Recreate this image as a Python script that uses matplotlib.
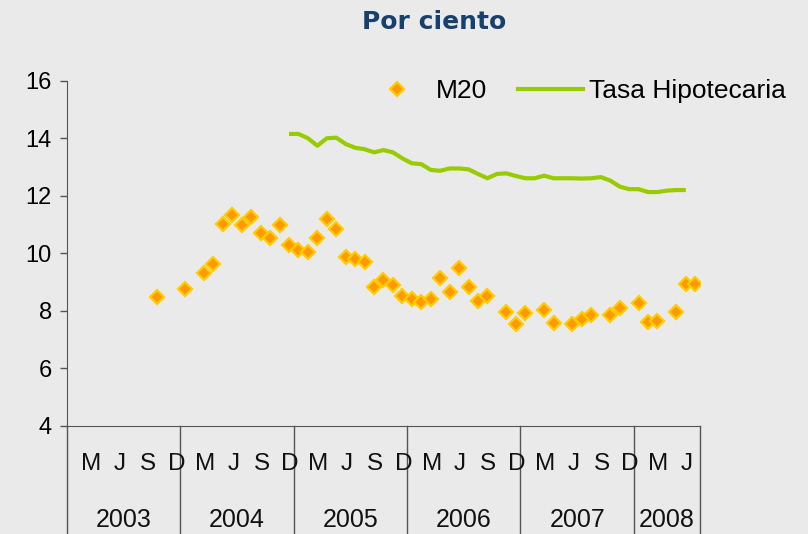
import matplotlib
matplotlib.use("Agg")
import matplotlib.pyplot as plt
import numpy as np
from matplotlib.lines import Line2D

# months from Jan 2003 to Jul 2008, one slot per month
years = ["2003", "2004", "2005", "2006", "2007", "2008"]
months_per_year = [12, 12, 12, 12, 12, 7]
month_letters = ["", "", "M", "", "", "J", "", "", "S", "", "", "D"]

n = np.nan
m20_2003 = [n, n, n, n, n, n, n, n, n, 8.49, n, n]
m20_2004 = [8.75, n, 9.31, 9.64, 11.01, 11.32, 10.98, 11.25, 10.70, 10.52, 11.00, 10.29]
m20_2005 = [10.12, 10.03, 10.53, 11.19, 10.85, 9.88, 9.80, 9.71, 8.82, 9.07, 8.90, 8.52]
m20_2006 = [8.40, 8.32, 8.41, 9.15, 8.67, 9.48, 8.83, 8.34, 8.51, n, 7.95, 7.54]
m20_2007 = [7.94, n, 8.03, 7.57, n, 7.54, 7.72, 7.86, n, 7.86, 8.10, n]
m20_2008 = [8.28, 7.62, 7.64, n, 7.95, 8.92, 8.92]

tasa_2003 = [n] * 12
tasa_2004 = [n] * 11 + [14.15]
tasa_2005 = [14.15, 14.00, 13.74, 14.00, 14.02, 13.80, 13.67, 13.62, 13.51, 13.59, 13.51, 13.30]
tasa_2006 = [13.13, 13.10, 12.90, 12.87, 12.95, 12.95, 12.92, 12.76, 12.61, 12.76, 12.78, 12.69]
tasa_2007 = [12.61, 12.61, 12.70, 12.61, 12.61, 12.61, 12.60, 12.61, 12.65, 12.53, 12.32, 12.23]
tasa_2008 = [12.23, 12.13, 12.13, 12.18, 12.20, 12.20, n]

m20 = np.array(m20_2003 + m20_2004 + m20_2005 + m20_2006 + m20_2007 + m20_2008)
tasa = np.array(tasa_2003 + tasa_2004 + tasa_2005 + tasa_2006 + tasa_2007 + tasa_2008)
x = np.arange(len(m20)) + 0.5

bg = "#EAEAEA"
axcol = "#555555"
green = "#99CC00"

plt.rcParams["font.family"] = ["Liberation Sans", "DejaVu Sans"]

fig = plt.figure(figsize=(8.08, 5.34), dpi=100, facecolor=bg)
ax = fig.add_axes([67 / 808, 1 - 426 / 534, 633 / 808, 345.3 / 534])
ax.set_facecolor(bg)

ax.plot(x, tasa, color=green, lw=3.0, solid_capstyle="butt", zorder=2)
ax.plot(x, m20, ls="none", marker="D", ms=7, mfc="#FF9900", mec="#FFCC00",
        mew=1.6, zorder=3)

ax.set_xlim(0, len(m20))
ax.set_ylim(4, 16)
ax.set_yticks(np.arange(4, 17, 2))
ax.tick_params(axis="y", direction="out", length=5, width=1, color=axcol,
               labelsize=17, pad=6)
ax.set_xticks([])
for s in ["top", "right"]:
    ax.spines[s].set_visible(False)
ax.spines["left"].set_color(axcol)
ax.spines["bottom"].set_color(axcol)

# category axis drawn as a table: month letters and year boxes
tr = ax.get_xaxis_transform()
y_bot = (426 - 534) / 345.3
start = 0
bounds = [0]
for yr, cnt in zip(years, months_per_year):
    for k in range(cnt):
        if month_letters[k]:
            ax.text(start + k + 0.6, -0.11, month_letters[k], transform=tr,
                    ha="center", va="center", fontsize=17.5, color="#111111")
    ax.text(start + cnt / 2, -0.272, yr, transform=tr, ha="center",
            va="center", fontsize=18, color="#111111")
    start += cnt
    bounds.append(start)
for b in bounds:
    ax.plot([b, b], [0, y_bot], transform=tr, color=axcol, lw=1, clip_on=False)

fig.text(434 / 808, 1 - 22 / 534, "Por ciento", ha="center", va="center",
         fontsize=18, fontweight="bold", color="#17406D", family="DejaVu Sans")

handles = [
    Line2D([], [], ls="none", marker="D", ms=7, mfc="#FF9900", mec="#FFCC00", mew=1.6),
    Line2D([], [], color=green, lw=3.0),
]
fig.legend(handles, ["M20", "Tasa Hipotecaria"], ncol=2, frameon=False,
           loc="center left", bbox_to_anchor=(365 / 808, 1 - 91 / 534),
           borderpad=0, borderaxespad=0, fontsize=19, handlelength=2.45,
           handletextpad=0.25, columnspacing=1.15)

fig.savefig("out.png", dpi=100, facecolor=bg)
